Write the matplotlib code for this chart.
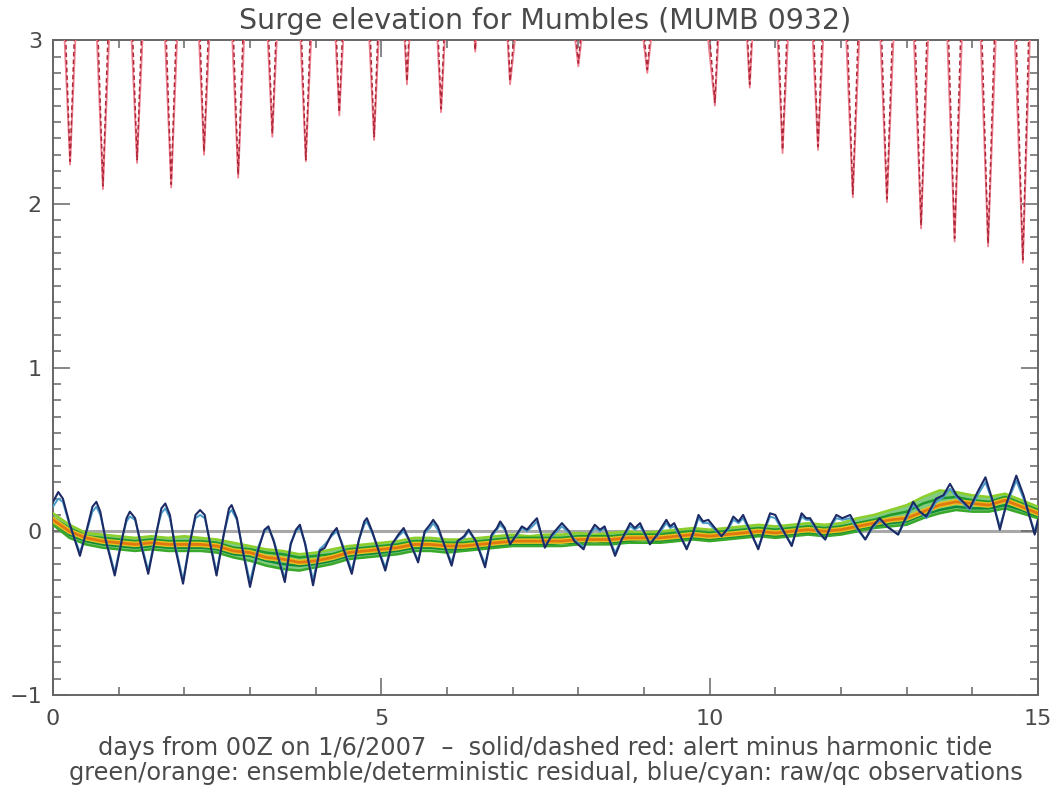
import numpy as np
import matplotlib
matplotlib.use("Agg")
import matplotlib.pyplot as plt
from matplotlib.ticker import MultipleLocator

# alert minus harmonic tide: bottom of each dip below the 3 m line (days, m)
dip_day = [0.26, 0.76, 1.28, 1.80, 2.30, 2.82, 3.34, 3.85, 4.36, 4.89,
           5.39, 5.91, 6.43, 6.96, 8.00, 9.05, 10.08, 10.61, 11.11, 11.65,
           12.18, 12.70, 13.22, 13.73, 14.24, 14.77]
dip_solid = [2.24, 2.09, 2.25, 2.10, 2.30, 2.16, 2.41, 2.26, 2.54, 2.39,
             2.73, 2.56, 2.93, 2.73, 2.84, 2.80, 2.60, 2.71, 2.31, 2.33,
             2.04, 2.01, 1.85, 1.77, 1.74, 1.64]
dip_dashed = [2.26, 2.11, 2.27, 2.12, 2.32, 2.18, 2.43, 2.27, 2.56, 2.41,
              2.75, 2.58, 2.94, 2.75, 2.86, 2.82, 2.62, 2.73, 2.33, 2.35,
              2.06, 2.03, 1.87, 1.79, 1.76, 1.66]
crest_solid = 4.6   # off the top of the plot between dips
crest_dashed = 5.2

# deterministic residual and ensemble members, every 6 hours
ens_day = np.arange(0, 15.01, 0.25)
det = [0.07, 0.00, -0.04, -0.06, -0.07, -0.08, -0.07, -0.08, -0.08, -0.08,
       -0.09, -0.12, -0.13, -0.16, -0.17, -0.19, -0.18, -0.16, -0.13, -0.12,
       -0.11, -0.10, -0.08, -0.08, -0.09, -0.09, -0.08, -0.07, -0.06, -0.06,
       -0.06, -0.06, -0.05, -0.05, -0.05, -0.04, -0.04, -0.04, -0.03, -0.02,
       -0.03, -0.02, -0.01, 0.00, -0.01, 0.00, 0.01, 0.00, 0.01, 0.03,
       0.05, 0.07, 0.08, 0.12, 0.16, 0.18, 0.17, 0.16, 0.19, 0.15, 0.11]
ens1 = [0.11, 0.04, -0.01, -0.02, -0.03, -0.04, -0.03, -0.04, -0.03, -0.04,
        -0.05, -0.07, -0.09, -0.11, -0.12, -0.14, -0.13, -0.11, -0.09, -0.08,
        -0.07, -0.06, -0.04, -0.04, -0.05, -0.05, -0.04, -0.03, -0.02, -0.03,
        -0.02, -0.02, -0.01, -0.02, -0.01, 0.00, -0.01, 0.00, 0.01, 0.02,
        0.01, 0.02, 0.03, 0.04, 0.03, 0.04, 0.05, 0.04, 0.05, 0.08,
        0.10, 0.13, 0.16, 0.21, 0.25, 0.24, 0.22, 0.21, 0.23, 0.19, 0.15]
ens2 = [0.08, 0.02, -0.03, -0.04, -0.05, -0.06, -0.05, -0.06, -0.06, -0.06,
        -0.07, -0.10, -0.11, -0.13, -0.14, -0.16, -0.15, -0.14, -0.11, -0.10,
        -0.09, -0.08, -0.06, -0.06, -0.07, -0.07, -0.06, -0.05, -0.04, -0.04,
        -0.04, -0.04, -0.03, -0.03, -0.03, -0.02, -0.02, -0.02, -0.01, 0.00,
        -0.01, 0.00, 0.01, 0.02, 0.01, 0.02, 0.03, 0.02, 0.03, 0.05,
        0.07, 0.10, 0.12, 0.17, 0.20, 0.21, 0.19, 0.18, 0.21, 0.17, 0.13]
ens3 = [0.06, -0.02, -0.06, -0.08, -0.09, -0.10, -0.09, -0.10, -0.10, -0.10,
        -0.11, -0.14, -0.15, -0.18, -0.20, -0.21, -0.20, -0.18, -0.15, -0.14,
        -0.13, -0.12, -0.10, -0.10, -0.11, -0.11, -0.10, -0.09, -0.08, -0.08,
        -0.08, -0.07, -0.07, -0.06, -0.07, -0.06, -0.05, -0.06, -0.05, -0.04,
        -0.05, -0.04, -0.03, -0.02, -0.03, -0.02, -0.01, -0.02, -0.01, 0.01,
        0.03, 0.05, 0.06, 0.10, 0.13, 0.15, 0.14, 0.14, 0.16, 0.13, 0.09]
ens4 = [0.04, -0.04, -0.08, -0.10, -0.11, -0.12, -0.11, -0.12, -0.12, -0.12,
        -0.13, -0.16, -0.18, -0.21, -0.23, -0.24, -0.22, -0.20, -0.17, -0.16,
        -0.15, -0.14, -0.12, -0.12, -0.13, -0.12, -0.11, -0.10, -0.09, -0.09,
        -0.09, -0.09, -0.08, -0.08, -0.08, -0.07, -0.07, -0.07, -0.06, -0.05,
        -0.06, -0.05, -0.04, -0.03, -0.04, -0.03, -0.02, -0.03, -0.02, 0.00,
        0.02, 0.03, 0.04, 0.08, 0.11, 0.13, 0.12, 0.12, 0.14, 0.11, 0.08]

# observed residual, raw and quality controlled
obs_day = [0.00, 0.08, 0.15, 0.25, 0.41, 0.52, 0.60, 0.66, 0.72, 0.80,
           0.94, 1.05, 1.12, 1.17, 1.25, 1.32, 1.45, 1.57, 1.65, 1.71,
           1.78, 1.86, 1.98, 2.08, 2.17, 2.24, 2.31, 2.38, 2.49, 2.60,
           2.68, 2.72, 2.80, 2.88, 3.00, 3.12, 3.22, 3.28, 3.36, 3.53,
           3.62, 3.70, 3.76, 3.84, 3.96, 4.06, 4.14, 4.24, 4.32, 4.40,
           4.55, 4.66, 4.74, 4.78, 4.86, 5.06, 5.16, 5.26, 5.34, 5.42,
           5.56, 5.66, 5.74, 5.79, 5.86, 6.07, 6.16, 6.26, 6.33, 6.44,
           6.58, 6.68, 6.76, 6.81, 6.88, 6.96, 7.06, 7.14, 7.22, 7.30,
           7.37, 7.49, 7.60, 7.75, 7.86, 7.94, 8.08, 8.16, 8.25, 8.33,
           8.40, 8.56, 8.66, 8.79, 8.86, 8.94, 9.09, 9.20, 9.34, 9.40,
           9.46, 9.65, 9.74, 9.83, 9.90, 9.98, 10.18, 10.28, 10.36, 10.44,
           10.51, 10.74, 10.84, 10.92, 11.00, 11.10, 11.25, 11.33, 11.40, 11.47,
           11.53, 11.65, 11.76, 11.86, 11.93, 12.02, 12.14, 12.25, 12.37, 12.48,
           12.59, 12.70, 12.87, 12.96, 13.10, 13.20, 13.30, 13.45, 13.56, 13.66,
           13.76, 13.86, 13.96, 14.08, 14.20, 14.30, 14.42, 14.52, 14.67, 14.78,
           14.88, 14.95, 15.00]
obs_raw = [0.18, 0.24, 0.20, 0.05, -0.15, 0.02, 0.15, 0.18, 0.12, -0.05,
           -0.27, -0.05, 0.08, 0.12, 0.08, -0.05, -0.26, -0.02, 0.14, 0.17,
           0.10, -0.10, -0.32, -0.08, 0.10, 0.13, 0.10, -0.05, -0.27, -0.02,
           0.14, 0.16, 0.08, -0.10, -0.34, -0.12, 0.01, 0.03, -0.06, -0.31,
           -0.08, 0.01, 0.04, -0.08, -0.33, -0.12, -0.10, -0.02, 0.02, -0.08,
           -0.26, -0.05, 0.06, 0.08, 0.00, -0.24, -0.08, -0.02, 0.02, -0.05,
           -0.19, 0.00, 0.04, 0.07, 0.03, -0.21, -0.06, -0.03, 0.01, -0.06,
           -0.22, -0.02, 0.02, 0.06, 0.02, -0.08, -0.02, 0.03, 0.01, 0.05,
           0.08, -0.10, -0.02, 0.05, 0.00, -0.06, -0.11, -0.02, 0.04, 0.01,
           0.03, -0.15, -0.05, 0.05, 0.02, 0.05, -0.08, -0.02, 0.07, 0.03,
           0.05, -0.11, -0.02, 0.10, 0.06, 0.07, -0.03, 0.02, 0.09, 0.06,
           0.10, -0.11, 0.02, 0.11, 0.10, 0.02, -0.09, 0.02, 0.11, 0.08,
           0.08, 0.00, -0.05, 0.05, 0.10, 0.08, 0.10, 0.02, -0.05, 0.03,
           0.08, 0.03, -0.02, 0.06, 0.18, 0.12, 0.09, 0.20, 0.22, 0.29,
           0.22, 0.18, 0.14, 0.24, 0.33, 0.20, 0.01, 0.17, 0.34, 0.22,
           0.08, -0.02, 0.07]
obs_qc = [0.15, 0.20, 0.18, 0.04, -0.13, 0.01, 0.12, 0.15, 0.10, -0.04,
          -0.25, -0.04, 0.06, 0.09, 0.07, -0.04, -0.24, -0.01, 0.11, 0.14,
          0.08, -0.08, -0.30, -0.07, 0.08, 0.10, 0.08, -0.04, -0.25, -0.02,
          0.11, 0.13, 0.07, -0.09, -0.31, -0.10, 0.00, 0.02, -0.05, -0.29,
          -0.07, 0.00, 0.02, -0.07, -0.30, -0.11, -0.08, -0.03, 0.00, -0.07,
          -0.24, -0.05, 0.04, 0.06, -0.01, -0.22, -0.08, -0.03, 0.00, -0.05,
          -0.18, -0.01, 0.02, 0.05, 0.01, -0.19, -0.06, -0.04, 0.00, -0.06,
          -0.20, -0.03, 0.01, 0.04, 0.01, -0.07, -0.03, 0.02, 0.00, 0.03,
          0.06, -0.09, -0.03, 0.03, -0.01, -0.05, -0.10, -0.03, 0.02, 0.00,
          0.02, -0.13, -0.05, 0.03, 0.01, 0.03, -0.07, -0.03, 0.05, 0.02,
          0.03, -0.10, -0.03, 0.08, 0.05, 0.05, -0.03, 0.01, 0.07, 0.05,
          0.08, -0.10, 0.01, 0.09, 0.08, 0.01, -0.08, 0.01, 0.09, 0.07,
          0.07, -0.01, -0.05, 0.04, 0.08, 0.07, 0.08, 0.01, -0.05, 0.02,
          0.07, 0.03, -0.02, 0.05, 0.16, 0.12, 0.08, 0.18, 0.21, 0.26,
          0.21, 0.17, 0.13, 0.22, 0.30, 0.19, 0.03, 0.16, 0.31, 0.20,
          0.08, 0.00, 0.07]


def tide_curve(days, lows, crest):
    # join the dips through crests half way between them
    mids = [0.0] + [(a + b) / 2 for a, b in zip(days[:-1], days[1:])] + [15.0]
    x, y = [mids[0]], [crest]
    for d, v, m in zip(days, lows, mids[1:]):
        x += [d, m]
        y += [v, crest]
    return x, y


text_col = "#4a4a4a"
axis_col = "#666666"

fig = plt.figure(figsize=(10.54, 7.88), dpi=100)
ax = fig.add_axes([0.0503, 0.118, 0.9345, 0.831])

ax.axhline(0, color="#a8a8a8", lw=2.2, zorder=1)

# ensemble spread and members
ens = np.array([ens1, ens2, ens3, ens4])
ax.fill_between(ens_day, ens.min(axis=0), ens.max(axis=0),
                color="#2eaa2e", alpha=0.6, lw=0, zorder=2)
for m, c in zip(ens, ["#8ccf2a", "#1f9a2a", "#0e8a3a", "#3aa82a"]):
    ax.plot(ens_day, m, color=c, lw=1.8, zorder=3)
ax.plot(ens_day, det, color="#e8c020", lw=4.0, zorder=4)
ax.plot(ens_day, det, color="#e07810", lw=2.0, zorder=5)

# observations
ax.plot(obs_day, obs_qc, color="#4a9cc8", lw=1.4, zorder=6)
ax.plot(obs_day, obs_raw, color="#1c2a66", lw=1.5, zorder=7)

# alert minus harmonic tide
xs, ys = tide_curve(dip_day, dip_solid, crest_solid)
ax.plot(xs, ys, color="#ec8090", lw=1.3, zorder=8)
xd, yd = tide_curve(dip_day, dip_dashed, crest_dashed)
ax.plot(xd, yd, color="#b02838", lw=1.1, ls=(0, (3, 2)), zorder=9)

ax.set_xlim(0, 15)
ax.set_ylim(-1, 3)
ax.xaxis.set_major_locator(MultipleLocator(5))
ax.xaxis.set_minor_locator(MultipleLocator(1))
ax.yaxis.set_major_locator(MultipleLocator(1))
ax.yaxis.set_minor_locator(MultipleLocator(0.1))
ax.tick_params(which="both", direction="in", top=True, right=True,
               color=axis_col, labelcolor=text_col, labelsize=16, width=1.1)
ax.tick_params(which="major", length=12)
ax.tick_params(axis="x", which="major", pad=10)
ax.tick_params(axis="y", which="major", pad=8)
ax.tick_params(which="minor", length=6)
for s in ax.spines.values():
    s.set_color(axis_col)
    s.set_linewidth(1.4)

ax.set_title("Surge elevation for Mumbles (MUMB 0932)", fontsize=20.5,
             color=text_col, pad=8)
ax.set_xlabel("days from 00Z on 1/6/2007  \u2013  solid/dashed red: alert minus harmonic tide\n"
              "green/orange: ensemble/deterministic residual, blue/cyan: raw/qc observations",
              fontsize=17.3, color=text_col, labelpad=5, linespacing=1.05)

fig.savefig("out.png", dpi=100)
